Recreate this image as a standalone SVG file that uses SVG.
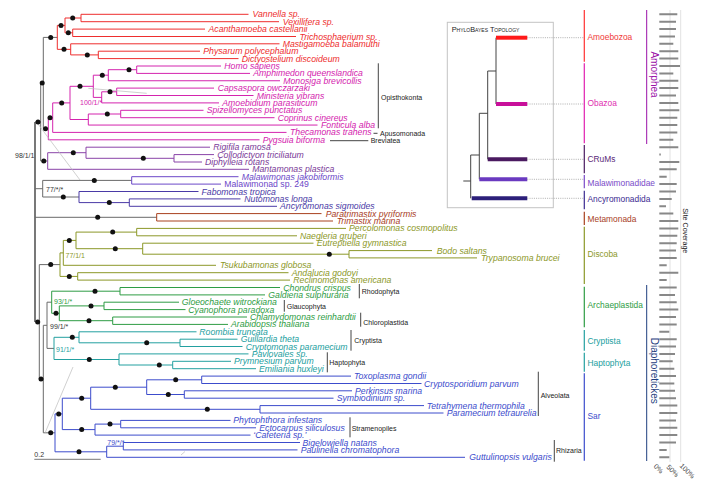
<svg xmlns="http://www.w3.org/2000/svg" width="703" height="485" viewBox="0 0 703 485">
<style>
text{font-family:'Liberation Sans',Arial,Helvetica,sans-serif}
.t{font-size:8.7px;font-style:italic}
.u{font-style:normal}
.s{font-size:7px}
.k{font-size:7px;fill:#222}
.c{font-size:8.4px}
path{fill:none;stroke-width:1}
.gr{stroke:#6a6a6a}
.am{stroke:#ee2e2e}.ob{stroke:#d424ae}.cr{stroke:#8a44a8}.ml{stroke:#6c48c8}.an{stroke:#4a3aa6}.me{stroke:#a8401e}.di{stroke:#8c9828}.ar{stroke:#2e9c44}.cy{stroke:#23a0a0}.sa{stroke:#3c4ccc}
.fam{fill:#ee2e2e}.fob{fill:#d424ae}.fcr{fill:#7a3a98}.fml{fill:#6c48c8}.fan{fill:#4a3aa6}.fme{fill:#a8401e}.fdi{fill:#8c9828}.far{fill:#2e9c44}.fcy{fill:#23a0a0}.fsa{fill:#3c4ccc}
.d{fill:#111}
.bk{stroke:#444}
.alt{stroke:#bcbcbc;stroke-width:0.7}
.dot{stroke:#999;stroke-width:0.8;stroke-dasharray:1 1.2}
.bar{stroke:#888;stroke-width:2}
.cb{stroke-width:1.2}
.ib{stroke-width:4}
</style>

<g id="connectors">
<path class="gr" d="M35,122.05V321.9" style="stroke-width:1.8"/>
<path class="gr" d="M35,122.05H40.7M40.7,83.1V161M40.7,83.1H43.3M43.3,37.4V128.8M43.3,37.4H57.3M43.3,128.8H48.3M40.7,161H47.7M35,188.7H42.7M42.7,180.4V197M42.7,180.4H131.7M42.7,197H79M35,217.3H156.7M35,321.9H39.3M39.3,264.6V379.1M39.3,264.6H60M39.3,379.1H43.3M43.3,325.3V432.8M43.3,325.3H47M47,302.2V348.4M47,302.2H51.7M47,348.4H54M43.3,432.8H55"/>
<path class="am" d="M57.3,25.4V49.35M57.3,25.4H65M65,18V32.8M65,18H81M81,14.3V21.7M81,14.3H248.5M81,21.7H279M65,32.8H72.7M72.7,29.1V36.5M72.7,29.1H205M72.7,36.5H296M57.3,49.35H70.7M70.7,43.8V54.9M70.7,43.8H279.5M70.7,54.9H98.3M98.3,51.2V58.6M98.3,51.2H200M98.3,58.6H238.5"/>
<path class="ob" d="M48.3,117.7V139.8M48.3,139.8H259.5M48.3,117.7H52.7M52.7,102.9V132.4M52.7,132.4H286.5M52.7,102.9H70M70,86.3V119.5M70,86.3H93.3M93.3,75.2V97.4M93.3,75.2H108.3M108.3,69.7V80.75M108.3,69.7H136.7M136.7,66V73.4M136.7,66H221M136.7,73.4H250M108.3,80.75H280M93.3,97.4H101.7M101.7,91.8V102.9M101.7,91.8H116.7M116.7,88.1V95.5M116.7,88.1H214M116.7,95.5H253.5M101.7,102.9H219M70,119.5H88.3M88.3,114V125.05M88.3,114H120.7M120.7,110.3V117.7M120.7,110.3H203.5M120.7,117.7H274.5M88.3,125.05H317.5"/>
<path class="cr" d="M47.7,152.7V169.3M47.7,169.3H249M47.7,152.7H86M86,147.2V158.3M86,147.2H210M86,158.3H174M174,154.6V162M174,154.6H214M174,162H202"/>
<path class="ml" d="M131.7,176.7V184.1M131.7,176.7H238.5M131.7,184.1H221"/>
<path class="an" d="M79,191.5V202.6M79,191.5H198.5M79,202.6H129.3M129.3,198.9V206.3M129.3,198.9H240.5M129.3,206.3H277"/>
<path class="me" d="M156.7,213.6V221M156.7,213.6H321.5M156.7,221H333"/>
<path class="di" d="M60,252.9V276.4M60,252.9H63.3M63.3,240.4V265.3M63.3,265.3H216M63.3,240.4H76M76,232.1V248.7M76,232.1H136.7M136.7,228.4V235.8M136.7,228.4H346M136.7,235.8H297M76,248.7H142.7M142.7,243.2V254.2M142.7,243.2H313.5M142.7,254.2H349M349,250.6V257.9M349,250.6H432M349,257.9H477M60,276.4H77.7M77.7,272.7V280.1M77.7,272.7H288.5M77.7,280.1H290"/>
<path class="ar" d="M51.7,291.2V313.3M51.7,291.2H120M120,287.5V294.9M120,287.5H280M120,294.9H265M51.7,313.3H59.3M59.3,305.9V320.7M59.3,305.9H104M104,302.2V309.6M104,302.2H179M104,309.6H185.5M59.3,320.7H112.7M112.7,317V324.4M112.7,317H247M112.7,324.4H228"/>
<path class="cy" d="M54,337.3V359.5M54,337.3H79M79,331.8V342.8M79,331.8H196.5M79,342.8H180M180,339.2V346.5M180,339.2H237.5M180,346.5H242.5M54,359.5H119M119,353.9V365M119,353.9H248.5M119,365H172.7M172.7,361.3V368.7M172.7,361.3H231M172.7,368.7H256"/>
<path class="sa" d="M55,413.9V451.8M55,413.9H62.3M62.3,398.2V429.6M62.3,398.2H90.7M90.7,387.2V409.3M90.7,387.2H146.7M146.7,379.8V394.5M146.7,379.8H201.7M201.7,376.1V383.5M201.7,376.1H351M201.7,383.5H421.5M146.7,394.5H184.3M184.3,390.8V398.2M184.3,390.8H352M184.3,398.2H333.5M90.7,409.3H260M260,405.6V413M260,405.6H424M260,413H443.5M62.3,429.6H95M95,424.1V435.1M95,424.1H120.7M120.7,420.4V427.8M120.7,420.4H230.5M120.7,427.8H256M95,435.1H250.5M55,451.8H106.7M106.7,446.2V457.3M106.7,446.2H123.3M123.3,442.5V449.9M123.3,442.5H300M123.3,449.9H297.5M106.7,457.3H465"/>
<path class="alt" d="M38,124L80,180M88.3,88.3L146.7,93.3M45,433L73,367M181,455L185,451.5"/>
<g class="d">
<circle cx="38" cy="122.05" r="2.5"/><circle cx="42.2" cy="83.1" r="2.5"/><circle cx="50.7" cy="37.4" r="2.5"/><circle cx="45.5" cy="128.8" r="2.5"/><circle cx="43.8" cy="161" r="2.5"/>
<circle cx="61" cy="25.4" r="2.5"/><circle cx="72.7" cy="18" r="2.5"/><circle cx="68.3" cy="32.8" r="2.5"/><circle cx="64" cy="49.35" r="2.5"/><circle cx="87.3" cy="54.9" r="2.5"/>
<circle cx="50" cy="117.7" r="2.5"/><circle cx="61.7" cy="102.9" r="2.5"/><circle cx="80" cy="86.3" r="2.5"/><circle cx="102.3" cy="75.2" r="2.5"/><circle cx="129" cy="69.7" r="2.5"/><circle cx="110" cy="91.8" r="2.5"/><circle cx="107.3" cy="114" r="2.5"/>
<circle cx="73.3" cy="152.7" r="2.5"/><circle cx="143.3" cy="158.3" r="2.5"/>
<circle cx="94.3" cy="180.4" r="2.5"/><circle cx="63.3" cy="197" r="2.5"/><circle cx="109.3" cy="202.6" r="2.5"/>
<circle cx="97.7" cy="217.3" r="2.5"/>
<circle cx="50.7" cy="264.6" r="2.5"/><circle cx="69.3" cy="240.4" r="2.5"/><circle cx="69.3" cy="276.4" r="2.5"/><circle cx="112.7" cy="232.1" r="2.5"/><circle cx="115.3" cy="248.7" r="2.5"/><circle cx="329.3" cy="254.2" r="2.5"/>
<circle cx="37.7" cy="321.9" r="2.5"/><circle cx="41" cy="379.1" r="2.5"/>
<circle cx="95" cy="291.2" r="2.5"/><circle cx="56" cy="313.3" r="2.5"/><circle cx="91" cy="305.9" r="2.5"/><circle cx="89" cy="320.7" r="2.5"/>
<circle cx="72.3" cy="337.3" r="2.5"/><circle cx="146.7" cy="342.8" r="2.5"/><circle cx="89.3" cy="359.5" r="2.5"/><circle cx="159.3" cy="365" r="2.5"/>
<circle cx="50.7" cy="432.8" r="2.5"/><circle cx="58.7" cy="413.9" r="2.5"/><circle cx="81.7" cy="398.2" r="2.5"/><circle cx="115.3" cy="387.2" r="2.5"/><circle cx="175.7" cy="379.8" r="2.5"/><circle cx="168.3" cy="394.5" r="2.5"/><circle cx="207.3" cy="409.3" r="2.5"/><circle cx="81.7" cy="429.6" r="2.5"/><circle cx="110" cy="424.1" r="2.5"/><circle cx="79" cy="451.8" r="2.5"/>
</g>
<path class="bk" d="M378.3,63.3V128.3M373.5,133.3H377.5M330,140.7H368.3M359.3,284V298.3M284.3,300V311.7M360.7,312.7V326.7M351,330V350.7M327.3,352.3V372.3M538.3,371.7V416M350,417.3V437.3M554.3,440V461.7"/>
<path d="M34.3,459.3H100.7" stroke="#777" stroke-width="1.2"/>
</g>

<g id="supports" class="s">
<text x="15" y="157.5" fill="#333">98/1/1</text>
<text x="46" y="191.5" fill="#333">77/*/*</text>
<text x="80" y="105" class="fob">100/1/*</text>
<text x="65.5" y="257.7" class="fdi">77/1/1</text>
<text x="54" y="303.7" class="far">93/1/*</text>
<text x="50" y="329" fill="#333">99/1/*</text>
<text x="56" y="351.5" class="fcy">91/1/*</text>
<text x="107.3" y="445" class="fsa">79/*/*</text>
<text x="34.3" y="457" fill="#333">0.2</text>
</g>

<g id="leaves" class="t">
<g id="n0" class="fam"><text x="252.5" y="17.3">Vannella sp.</text></g>
<g id="n1" class="fam"><text x="282.7" y="24.7">Vexillifera sp.</text></g>
<g id="n2" class="fam"><text x="208.5" y="32.1">Acanthamoeba castellanii</text></g>
<g id="n3" class="fam"><text x="299.5" y="39.5">Trichosphaerium sp.</text></g>
<g id="n4" class="fam"><text x="282.7" y="46.8">Mastigamoeba balamuthi</text></g>
<g id="n5" class="fam"><text x="203.3" y="54.2">Physarum polycephalum</text></g>
<g id="n6" class="fam"><text x="241.7" y="61.6">Dictyostelium discoideum</text></g>
<g id="n7" class="fob"><text x="224.3" y="69">Homo sapiens</text></g>
<g id="n8" class="fob"><text x="253.3" y="76.4">Amphimedon queenslandica</text></g>
<g id="n9" class="fob"><text x="283.3" y="83.75">Monosiga brevicollis</text></g>
<g id="n10" class="fob"><text x="217.7" y="91.1">Capsaspora owczarzaki</text></g>
<g id="n11" class="fob"><text x="256.7" y="98.5">Ministeria vibrans</text></g>
<g id="n12" class="fob"><text x="222.3" y="105.9">Amoebidium parasiticum</text></g>
<g id="n13" class="fob"><text x="206.7" y="113.3">Spizellomyces punctatus</text></g>
<g id="n14" class="fob"><text x="277.7" y="120.7">Coprinus cinereus</text></g>
<g id="n15" class="fob"><text x="321" y="128.05">Fonticula alba</text></g>
<g id="n16" class="fob"><text x="290" y="135.4">Thecamonas trahens</text></g>
<g id="n17" class="fob"><text x="262.7" y="142.8">Pygsuia biforma</text></g>
<g id="n18" class="fcr"><text x="213.3" y="150.2">Rigifila ramosa</text></g>
<g id="n19" class="fcr"><text x="217.3" y="157.6">Collodictyon triciliatum</text></g>
<g id="n20" class="fcr"><text x="205" y="165">Diphylleia rotans</text></g>
<g id="n21" class="fcr"><text x="252.3" y="172.3">Mantamonas plastica</text></g>
<g id="n22" class="fml"><text x="241.7" y="179.7">Malawimonas jakobiformis</text></g>
<g id="n23" class="fml"><text x="224.3" y="187.1" class="u">Malawimonad sp. 249</text></g>
<g id="n24" class="fan"><text x="201.5" y="194.5">Fabomonas tropica</text></g>
<g id="n25" class="fan"><text x="244.3" y="201.9">Nutomonas longa</text></g>
<g id="n26" class="fan"><text x="280" y="209.3">Ancyromonas sigmoides</text></g>
<g id="n27" class="fme"><text x="325.7" y="216.6">Paratrimastix pyriformis</text></g>
<g id="n28" class="fme"><text x="336.7" y="224">Trimastix marina</text></g>
<g id="n29" class="fdi"><text x="349" y="231.4">Percolomonas cosmopolitus</text></g>
<g id="n30" class="fdi"><text x="300" y="238.8">Naegleria gruberi</text></g>
<g id="n31" class="fdi"><text x="316.7" y="246.2">Eutreptiella gymnastica</text></g>
<g id="n32" class="fdi"><text x="436.7" y="253.6">Bodo saltans</text></g>
<g id="n33" class="fdi"><text x="481" y="260.9">Trypanosoma brucei</text></g>
<g id="n34" class="fdi"><text x="220" y="268.3">Tsukubamonas globosa</text></g>
<g id="n35" class="fdi"><text x="291.7" y="275.7">Andalucia godoyi</text></g>
<g id="n36" class="fdi"><text x="293.3" y="283.1">Reclinomonas americana</text></g>
<g id="n37" class="far"><text x="283.3" y="290.5">Chondrus crispus</text></g>
<g id="n38" class="far"><text x="268.3" y="297.9">Galdieria sulphuraria</text></g>
<g id="n39" class="far"><text x="181.7" y="305.2">Gloeochaete witrockiana</text></g>
<g id="n40" class="far"><text x="188.3" y="312.6">Cyanophora paradoxa</text></g>
<g id="n41" class="far"><text x="250" y="320">Chlamydomonas reinhardtii</text></g>
<g id="n42" class="far"><text x="231" y="327.4">Arabidopsis thaliana</text></g>
<g id="n43" class="fcy"><text x="199.3" y="334.8">Roombia truncata</text></g>
<g id="n44" class="fcy"><text x="240.7" y="342.2">Guillardia theta</text></g>
<g id="n45" class="fcy"><text x="245.7" y="349.5">Cryptomonas paramecium</text></g>
<g id="n46" class="fcy"><text x="251.7" y="356.9">Pavlovales sp.</text></g>
<g id="n47" class="fcy"><text x="234" y="364.3">Prymnesium parvum</text></g>
<g id="n48" class="fcy"><text x="259" y="371.7">Emiliania huxleyi</text></g>
<g id="n49" class="fsa"><text x="354" y="379.1">Toxoplasma gondii</text></g>
<g id="n50" class="fsa"><text x="424" y="386.5">Cryptosporidium parvum</text></g>
<g id="n51" class="fsa"><text x="355" y="393.8">Perkinsus marina</text></g>
<g id="n52" class="fsa"><text x="336.7" y="401.2">Symbiodinium sp.</text></g>
<g id="n53" class="fsa"><text x="426.7" y="408.6">Tetrahymena thermophila</text></g>
<g id="n54" class="fsa"><text x="446.7" y="416">Paramecium tetraurelia</text></g>
<g id="n55" class="fsa"><text x="233.3" y="423.4">Phytophthora infestans</text></g>
<g id="n56" class="fsa"><text x="259.3" y="430.8">Ectocarpus siliculosus</text></g>
<g id="n57" class="fsa"><text x="253.3" y="438.1">‘Cafeteria sp.’</text></g>
<g id="n58" class="fsa"><text x="302.5" y="445.5">Bigelowiella natans</text></g>
<g id="n59" class="fsa"><text x="300.7" y="452.9">Paulinella chromatophora</text></g>
<g id="n60" class="fsa"><text x="469.3" y="460.3">Guttulinopsis vulgaris</text></g>
</g>

<g id="groups" class="k">
<text x="381" y="99.7">Opisthokonta</text>
<text x="380" y="135.8">Apusomonada</text>
<text x="370.7" y="143.2">Breviatea</text>
<text x="361.7" y="294">Rhodophyta</text>
<text x="286.7" y="309.2">Glaucophyta</text>
<text x="363.3" y="324.8">Chloroplastida</text>
<text x="354.3" y="343.2">Cryptista</text>
<text x="329.3" y="364.8">Haptophyta</text>
<text x="540.7" y="397.5">Alveolata</text>
<text x="351.7" y="430.8">Stramenopiles</text>
<text x="556" y="453.2">Rhizaria</text>
</g>

<g id="inset">
<rect x="447.3" y="22.3" width="106" height="185.4" fill="none" stroke="#c4c4c4" stroke-width="1"/>
<text x="451.7" y="31.6" style="font-size:7.3px;font-variant:small-caps" fill="#222">PhyloBayes Topology</text>
<path stroke="#444" d="M496,37.7V104M487.7,71H496M487.7,71V159.3M479.3,113.3H487.7M479.3,113.3V179.3M470.7,155H479.3M470.7,155V198.3M463.3,181H470.7"/>
<path class="ib" stroke="#ff1a1a" d="M496,37.7H527.3"/>
<path class="ib" stroke="#c8109a" d="M496,104H527.3"/>
<path class="ib" stroke="#4a1a60" d="M487.7,159.3H527.3"/>
<path class="ib" stroke="#6a3ac0" d="M479.3,179.3H527.3"/>
<path class="ib" stroke="#2c1f7a" d="M471.7,198.3H527.3"/>
<path class="dot" d="M527.3,37.7H583.5M527.3,104H583.5M527.3,159.3H583.5M527.3,179.3H583.5M527.3,198.3H583.5"/>
</g>

<g id="clades" class="c">
<path class="cb" stroke="#ff3030" d="M584.3,10V61.7"/>
<path class="cb" stroke="#e020b0" d="M584.3,63.3V143.3"/>
<path class="cb" stroke="#4a1a60" d="M584.3,145V173.3"/>
<path class="cb" stroke="#7a4ac8" d="M584.3,175V188.3"/>
<path class="cb" stroke="#3a2a90" d="M584.3,190.7V209.3"/>
<path class="cb" stroke="#a8401e" d="M584.3,211.7V225"/>
<path class="cb" stroke="#8c9828" d="M584.3,226.7V284"/>
<path class="cb" stroke="#2e9c44" d="M584.3,286.7V327.3"/>
<path class="cb" stroke="#23a0a0" d="M584.3,330V350.7"/>
<path class="cb" stroke="#23a0a0" d="M584.3,352.7V371.7"/>
<path class="cb" stroke="#3c4ccc" d="M584.3,373.3V460.7"/>
<text x="587.5" y="39.7" fill="#f03a3a">Amoebozoa</text>
<text x="587.5" y="106.3" fill="#e030b0">Obazoa</text>
<text x="587.5" y="162" fill="#5a2a78">CRuMs</text>
<text x="587.5" y="185.7" fill="#7a4ac8">Malawimonadidae</text>
<text x="587.5" y="202.3" fill="#3a2a90">Ancyromonadida</text>
<text x="587.5" y="222.3" fill="#a8401e">Metamonada</text>
<text x="587.5" y="257.3" fill="#8c9828">Discoba</text>
<text x="587.5" y="308" fill="#2e9c44">Archaeplastida</text>
<text x="587.5" y="344" fill="#23a0a0">Cryptista</text>
<text x="587.5" y="366.3" fill="#23a0a0">Haptophyta</text>
<text x="587.5" y="418.7" fill="#3c4ccc">Sar</text>
<path stroke="#9a10a8" stroke-width="2" d="M646.7,10V144"/>
<path stroke="#1f3f7f" stroke-width="2" d="M646.7,285V461"/>
<text transform="translate(650.5,74.5) rotate(90)" text-anchor="middle" style="font-size:10px" fill="#9a10a8">Amorphea</text>
<text transform="translate(650.5,370.8) rotate(90)" text-anchor="middle" style="font-size:10px" fill="#1f3f7f">Diaphoretickes</text>
</g>

<g id="coverage">
<path stroke="#e2e2e2" stroke-width="0.7" d="M670,10V462M680.7,10V462"/>
<path class="bar" d="M659.3,14.3H677.3M659.3,21.7H676M659.3,29.1H676M659.3,36.5H675M659.3,43.8H673.3M659.3,51.2H678.3M659.3,58.6H678.3M659.3,66H680M659.3,73.4H673.3M659.3,80.75H678.3M659.3,88.1H678.3M659.3,95.5H676M659.3,102.9H678.3M659.3,110.3H679.3M659.3,117.7H677.3M659.3,125.05H677.3M659.3,132.4H677.3M659.3,139.8H673.3M659.3,147.2H678.3M659.3,154.6H660.8M659.3,162H679.3M659.3,169.3H676.7M659.3,176.7H666.7M659.3,184.1H676.7M659.3,191.5H676M659.3,198.9H671.7M659.3,206.3H666M659.3,213.6H673.3M659.3,221H678.3M659.3,228.4H678.3M659.3,235.8H677.3M659.3,243.2H676.7M659.3,250.6H676M659.3,257.9H676.7M659.3,265.3H666.7M659.3,272.7H678.3M659.3,280.1H666.7M659.3,287.5H676.7M659.3,294.9H675M659.3,302.2H676.7M659.3,309.6H678.3M659.3,317H676M659.3,324.4H676.7M659.3,331.8H669.3M659.3,339.2H676.7M659.3,346.5H676M659.3,353.9H675M659.3,361.3H672.7M659.3,368.7H674.3M659.3,376.1H676M659.3,383.5H674.3M659.3,390.8H675M659.3,398.2H676M659.3,405.6H677.3M659.3,413H677.3M659.3,420.4H676M659.3,427.8H677.3M659.3,435.1H677.3M659.3,442.5H676M659.3,449.9H666.7M659.3,457.3H669.3"/>
<text transform="translate(682.5,230.8) rotate(90)" text-anchor="middle" style="font-size:7.1px" fill="#222">Site Coverage</text>
<g style="font-size:7px" fill="#444">
<text transform="translate(653.3,466.8) rotate(45)">0%</text>
<text transform="translate(666,467.5) rotate(45)">50%</text>
<text transform="translate(679.3,466.2) rotate(45)">100%</text>
</g>
</g>
</svg>
